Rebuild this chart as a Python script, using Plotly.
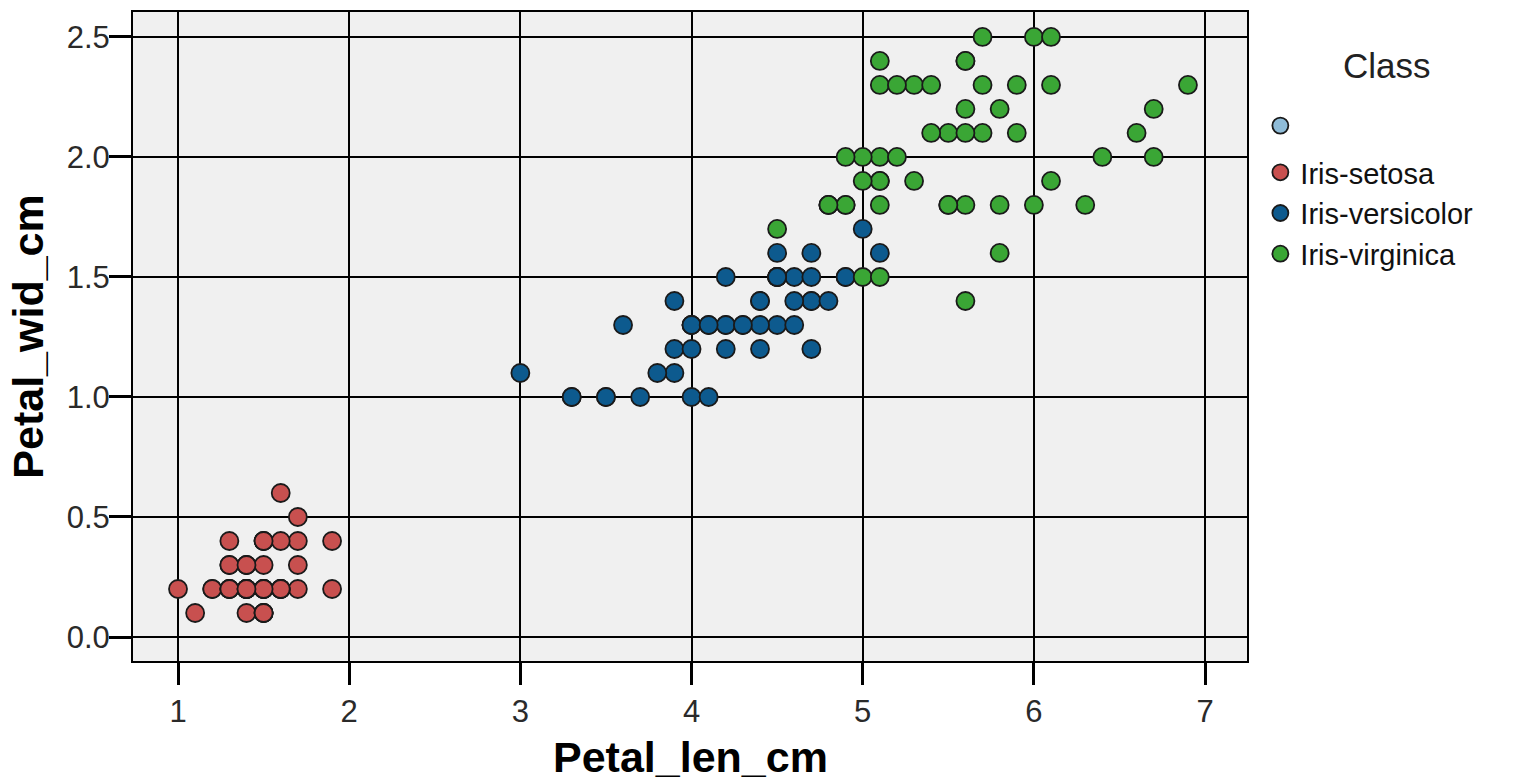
import plotly.graph_objects as go

setosa_len = [1.4,1.4,1.3,1.5,1.4,1.7,1.4,1.5,1.4,1.5,1.5,1.6,1.4,1.1,1.2,1.5,1.3,1.4,1.7,1.5,
              1.7,1.5,1.0,1.7,1.9,1.6,1.6,1.5,1.4,1.6,1.6,1.5,1.5,1.4,1.5,1.2,1.3,1.5,1.3,1.5,
              1.3,1.3,1.3,1.6,1.9,1.4,1.6,1.4,1.5,1.4]
setosa_wid = [0.2,0.2,0.2,0.2,0.2,0.4,0.3,0.2,0.2,0.1,0.2,0.2,0.1,0.1,0.2,0.4,0.4,0.3,0.3,0.3,
              0.2,0.4,0.2,0.5,0.2,0.2,0.4,0.2,0.2,0.2,0.2,0.4,0.1,0.2,0.1,0.2,0.2,0.1,0.2,0.2,
              0.3,0.3,0.2,0.6,0.4,0.3,0.2,0.2,0.2,0.2]
versicolor_len = [4.7,4.5,4.9,4.0,4.6,4.5,4.7,3.3,4.6,3.9,3.5,4.2,4.0,4.7,3.6,4.4,4.5,4.1,4.5,3.9,
                  4.8,4.0,4.9,4.7,4.3,4.4,4.8,5.0,4.5,3.5,3.8,3.7,3.9,5.1,4.5,4.5,4.7,4.4,4.1,4.0,
                  4.4,4.6,4.0,3.3,4.2,4.2,4.2,4.3,3.0,4.1]
versicolor_wid = [1.4,1.5,1.5,1.3,1.5,1.3,1.6,1.0,1.3,1.4,1.0,1.5,1.0,1.4,1.3,1.4,1.5,1.0,1.5,1.1,
                  1.8,1.3,1.5,1.2,1.3,1.4,1.4,1.7,1.5,1.0,1.1,1.0,1.2,1.6,1.5,1.6,1.5,1.3,1.3,1.3,
                  1.2,1.4,1.2,1.0,1.3,1.2,1.3,1.3,1.1,1.3]
virginica_len = [6.0,5.1,5.9,5.6,5.8,6.6,4.5,6.3,5.8,6.1,5.1,5.3,5.5,5.0,5.1,5.3,5.5,6.7,6.9,5.0,
                 5.7,4.9,6.7,4.9,5.7,6.0,4.8,4.9,5.6,5.8,6.1,6.4,5.6,5.1,5.6,6.1,5.6,5.5,4.8,5.4,
                 5.6,5.1,5.1,5.9,5.7,5.2,5.0,5.2,5.4,5.1]
virginica_wid = [2.5,1.9,2.1,1.8,2.2,2.1,1.7,1.8,1.8,2.5,2.0,1.9,2.1,2.0,2.4,2.3,1.8,2.2,2.3,1.5,
                 2.3,2.0,2.0,1.8,2.1,1.8,1.8,1.8,2.1,1.6,1.9,2.0,2.2,1.5,1.4,2.3,2.4,1.8,1.8,2.1,
                 2.4,2.3,1.9,2.3,2.5,2.3,1.9,2.0,2.3,1.8]

class_names = ["", "Iris-setosa", "Iris-versicolor", "Iris-virginica"]
class_colors = ["#8fbcd8", "#c8504f", "#0d5a8e", "#3aa635"]
x_ticks = [1, 2, 3, 4, 5, 6, 7]
y_ticks = [0.0, 0.5, 1.0, 1.5, 2.0, 2.5]

FONT = "Liberation Sans, Arial, sans-serif"
series = [([None], [None]), (setosa_len, setosa_wid), (versicolor_len, versicolor_wid),
          (virginica_len, virginica_wid)]

fig = go.Figure()
for i, (name, color, (xs, ys)) in enumerate(zip(class_names, class_colors, series)):
    fig.add_trace(go.Scatter(
        x=xs, y=ys, mode="markers", name=name if name else " ",
        legendgroup="empty" if i == 0 else "classes",
        marker=dict(size=18, color=color, line=dict(color="#1a1a1a", width=1.8)),
        hoverinfo="x+y+name",
    ))

axis_common = dict(
    showgrid=True, gridcolor="#000000", gridwidth=2.2,
    zeroline=False, showline=True, linecolor="#000000", linewidth=2, mirror=True,
    ticks="outside", ticklen=22, tickwidth=2.5, tickcolor="#000000",
    tickfont=dict(family=FONT, size=31, color="#2a2a2a"),
)

fig.update_layout(
    width=1519, height=782,
    margin=dict(l=133, r=272, t=12, b=121),
    paper_bgcolor="#ffffff", plot_bgcolor="#f0f0f0",
    font=dict(family=FONT, color="#222222"),
    xaxis=dict(range=[0.737, 7.245], tickvals=x_ticks, ticktext=[str(v) for v in x_ticks],
               automargin=False, **axis_common),
    yaxis=dict(range=[-0.1, 2.604], tickvals=y_ticks, ticktext=[f"{v:.1f}" for v in y_ticks],
               ticklabelstandoff=-7,
               title=dict(text="<b>Petal_wid_cm</b>", font=dict(family=FONT, size=43, color="#000000"),
                          standoff=10), **axis_common),
    legend=dict(
        x=1.012, y=0.864, xanchor="left", yanchor="top",
        font=dict(family=FONT, size=29, color="#111111"),
        traceorder="grouped", tracegroupgap=6,
        bgcolor="rgba(0,0,0,0)", itemwidth=30,
    ),
    showlegend=True,
    annotations=[
        dict(text="Class", xref="paper", yref="paper", x=1.1257, y=0.917,
             xanchor="center", yanchor="middle", showarrow=False,
             font=dict(family=FONT, size=35, color="#222222")),
        dict(text="<b>Petal_len_cm</b>", xref="paper", yref="paper", x=0.5, y=-0.148,
             xanchor="center", yanchor="middle", showarrow=False,
             font=dict(family=FONT, size=43, color="#000000")),
    ],
)

fig.write_html("out.html")
